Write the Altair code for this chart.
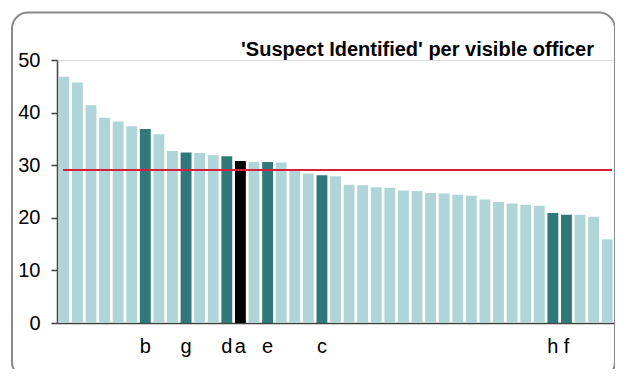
import altair as alt
import pandas as pd

# ---- data ----
values = [46.8, 45.7, 41.4, 39.0, 38.3, 37.4, 36.9, 35.9, 32.7, 32.4,
          32.3, 31.9, 31.7, 30.8, 30.6, 30.6, 30.5, 29.0, 28.4, 28.1,
          27.9, 26.3, 26.2, 25.8, 25.7, 25.2, 25.1, 24.7, 24.6, 24.4,
          24.2, 23.5, 23.0, 22.7, 22.5, 22.3, 20.9, 20.6, 20.6, 20.2, 15.9]
labels = {7: "b", 10: "g", 13: "d", 14: "a", 16: "e", 20: "c", 37: "h", 38: "f"}
highlight = 14          # black bar
reference_value = 29.1  # red line
title_text = "'Suspect Identified' per visible officer"
y_ticks = [0, 10, 20, 30, 40, 50]

idx = list(range(1, len(values) + 1))
kinds = []
for i in idx:
    if i == highlight:
        kinds.append("own")
    elif i in labels:
        kinds.append("named")
    else:
        kinds.append("other")

df = pd.DataFrame({"idx": idx, "value": values, "kind": kinds})

W, H = 557, 263
FONT = "Liberation Sans"

label_expr = "''"
for k in sorted(labels, reverse=True):
    label_expr = f"datum.value == {k} ? '{labels[k]}' : ({label_expr})"

box = alt.Chart(pd.DataFrame({"a": [0]})).mark_rect(
    fill=None, stroke="#8a8a8a", strokeWidth=2, cornerRadius=16
).encode(
    x=alt.value(-45), x2=alt.value(W + 1), y=alt.value(-47.5), y2=alt.value(318)
)

bars = alt.Chart(df).mark_bar().encode(
    x=alt.X("idx:O", sort=None,
            scale=alt.Scale(paddingInner=0.2, paddingOuter=0.1),
            axis=alt.Axis(title=None, labelExpr=label_expr, ticks=False,
                          labelAngle=0, labelFontSize=20, labelPadding=13,
                          labelFont=FONT, labelColor="#000",
                          domainColor="#404040", domainWidth=1.5)),
    y=alt.Y("value:Q", scale=alt.Scale(domain=[0, 50], nice=False),
            axis=alt.Axis(title=None, values=y_ticks, grid=False,
                          tickSize=6, tickColor="#404040", tickWidth=1.5,
                          domainColor="#404040", domainWidth=1.5,
                          labelFontSize=20, labelPadding=11, labelFont=FONT,
                          labelColor="#000")),
    color=alt.Color("kind:N", legend=None,
                    scale=alt.Scale(domain=["other", "named", "own"],
                                    range=["#b0d5d8", "#30787a", "#000000"])),
)

rule = alt.Chart(pd.DataFrame({"v": [reference_value]})).mark_rule(
    color="#d41f3f", strokeWidth=2
).encode(y="v:Q", x=alt.value(6), x2=alt.value(555))

title = alt.Chart(pd.DataFrame({"t": [title_text]})).mark_text(
    align="right", baseline="alphabetic", fontSize=20, fontWeight="bold",
    font=FONT, color="#000"
).encode(text="t:N", x=alt.value(537), y=alt.value(-4))

chart = alt.layer(box, bars, rule, title).properties(
    width=W, height=H,
    autosize=alt.AutoSizeParams(type="none"),
    padding={"left": 49, "top": 52, "right": 1, "bottom": 46},
).configure_view(stroke=None).configure(background="white")

chart.save("out.html", embed_options={"renderer": "svg", "actions": False})
